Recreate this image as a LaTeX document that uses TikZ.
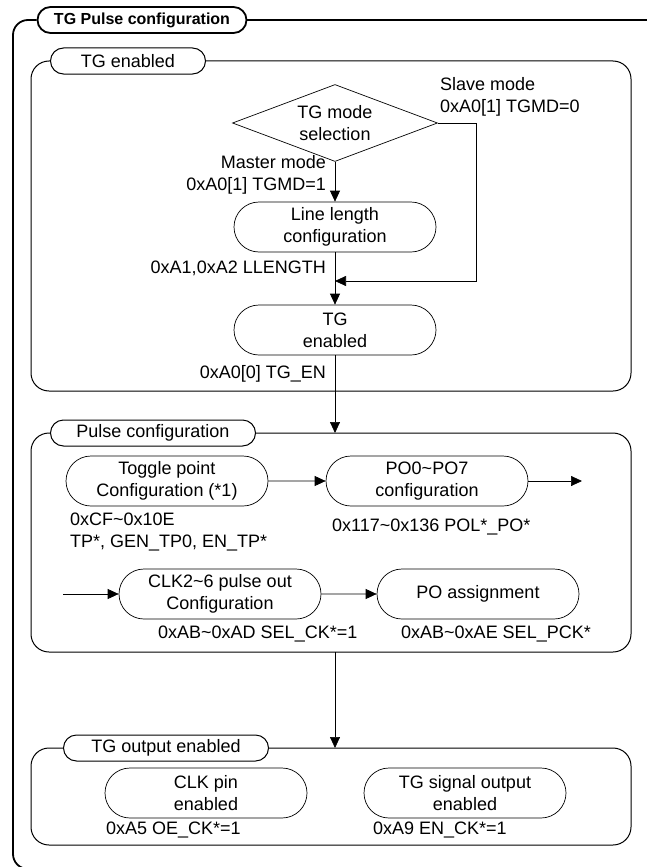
\documentclass[tikz,border=0pt]{standalone}
\usepackage{fontspec}
\setmainfont{Liberation Sans}
\usetikzlibrary{positioning, arrows.meta, shapes.misc, shapes.geometric}

\begin{document}
\begin{tikzpicture}[x=1pt, y=-1pt,
  every node/.style={font=\fontsize{18}{22}\selectfont},
  stepbox/.style={rounded rectangle, draw, line width=0.7pt,
              minimum width=206pt, minimum height=50pt,
              align=center, inner sep=2pt},
  tab/.style={rounded rectangle, draw, line width=1pt, fill=white,
              minimum height=26pt, inner sep=1pt},
  frame/.style={draw, line width=1pt, rounded corners=18pt},
  note/.style={align=left, inner sep=0pt},
  arrow/.style={-{Triangle[length=11pt, width=10pt]}, line width=0.7pt}
]
\useasboundingbox (0,0) rectangle (646,867);

% outer frame
\node[tab, line width=1.8pt, minimum width=211pt, font=\bfseries\fontsize{16}{19}\selectfont]
  (title) at (142,20) {TG Pulse configuration};
\draw[line width=1.8pt] (title.east) -- (652,20);
\draw[line width=1.8pt, rounded corners=15pt] (title.west) -- (13,20) -- (13,869) -- (60,869);

% TG enabled
\node[tab, minimum width=157pt] (entab) at (128,61) {TG enabled};
\draw[frame] (entab.east) -- (631,61) -- (631,391) -- (31,391) -- (31,61) -- (entab.west);

\node[diamond, draw, line width=0.7pt, aspect=2.66, inner sep=0pt,
      minimum width=205pt, minimum height=77pt, align=center]
  (mode) at (335,123) {TG mode\\selection};
\node[stepbox] (llen) at (335,227) {Line length\\configuration};
\node[stepbox] (tgen) at (335,330) {TG\\enabled};

\node[note, anchor=north west] (slave) at (440,77) {Slave mode\\0xA0[1] TGMD=0};
\node[note, align=right, anchor=east] (master) at (326,175) {Master mode\\0xA0[1] TGMD=1};
\node[note, anchor=east] (llreg) at (326,268) {0xA1,0xA2 LLENGTH};
\node[note, anchor=east] (enreg) at (326,374) {0xA0[0] TG\_EN};

\coordinate (join) at (335,281);
\draw[arrow] (mode.south) -- (llen.north);
\draw[arrow] (mode.east) -- (476,123) |- (join);
\draw[arrow] (llen.south) -- (tgen.north);

% Pulse configuration
\node[tab, minimum width=207pt] (pulsetab) at (153,433) {Pulse configuration};
\draw[frame] (pulsetab.east) -- (631,433) -- (631,652) -- (31,652) -- (31,433) -- (pulsetab.west);
\coordinate (pulsetop) at (335,433);
\draw[arrow] (tgen.south) -- (pulsetop);

\node[stepbox] (toggle) at (167,481) {Toggle point\\Configuration (*1)};
\node[stepbox] (pocfg) at (427,481) {PO0\textasciitilde PO7\\configuration};
\coordinate (rowend) at (582,481);
\node[note, anchor=north west] (tpreg) at (70,513) {0xCF\textasciitilde 0x10E\\TP*, GEN\_TP0, EN\_TP*};
\node[note, anchor=west] (poreg) at (332,527) {0x117\textasciitilde 0x136 POL*\_PO*};

\coordinate (rowstart) at (63,594);
\node[stepbox] (clkcfg) at (220,594) {CLK2\textasciitilde 6 pulse out\\Configuration};
\node[stepbox] (poasg) at (478,594) {PO assignment};
\node[note, anchor=west] (ckreg) at (158,634) {0xAB\textasciitilde 0xAD SEL\_CK*=1};
\node[note, anchor=west] (pckreg) at (401,634) {0xAB\textasciitilde 0xAE SEL\_PCK*};

\draw[arrow] (toggle) -- (pocfg);
\draw[arrow] (pocfg.east) -- (rowend);
\draw[arrow] (rowstart) -- (clkcfg);
\draw[arrow] (clkcfg) -- (poasg);

% TG output enabled
\node[tab, minimum width=207pt] (outtab) at (166,748) {TG output enabled};
\draw[frame] (outtab.east) -- (631,748) -- (631,845) -- (31,845) -- (31,748) -- (outtab.west);
\coordinate (pulsebot) at (335,652);
\coordinate (outtop) at (335,748);
\draw[arrow] (pulsebot) -- (outtop);

\node[stepbox] (clkpin) at (206,793) {CLK pin\\enabled};
\node[stepbox] (sigout) at (465,793) {TG signal output\\enabled};
\node[note, anchor=west] (oereg) at (106,830) {0xA5 OE\_CK*=1};
\node[note, anchor=west] (enckreg) at (373,830) {0xA9 EN\_CK*=1};
\end{tikzpicture}
\end{document}
